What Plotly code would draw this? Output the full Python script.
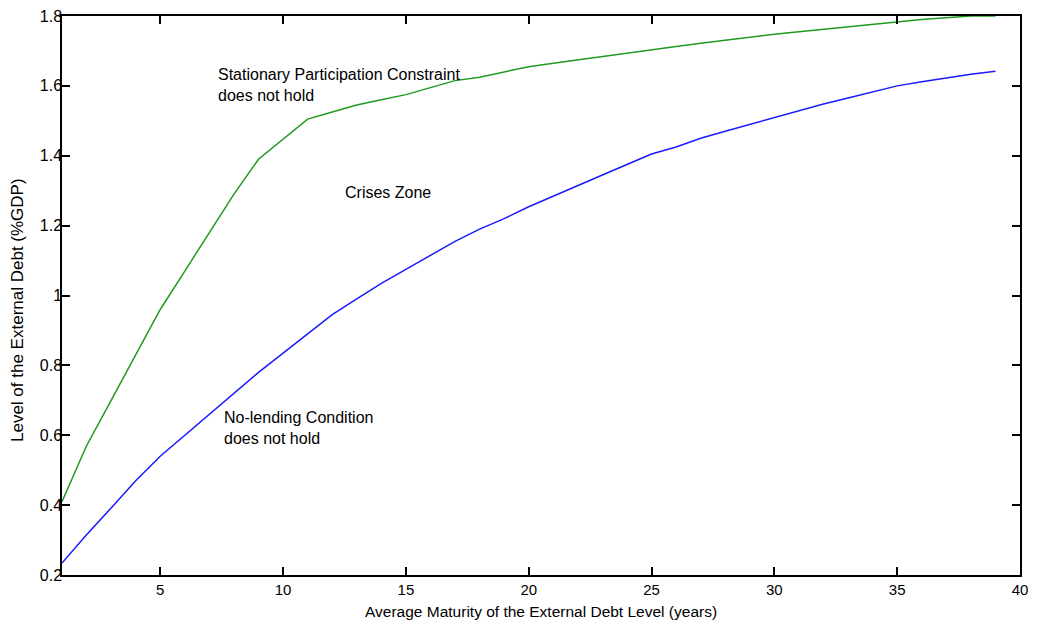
import plotly.graph_objects as go

maturity = list(range(1, 40))

stationary_pc = [0.41, 0.57, 0.70, 0.83, 0.96, 1.07, 1.18, 1.29, 1.39, 1.4475,
                 1.505, 1.525, 1.545, 1.56, 1.575, 1.595, 1.615, 1.625, 1.64, 1.655,
                 1.665, 1.675, 1.685, 1.695, 1.703, 1.713, 1.722, 1.731, 1.74, 1.748,
                 1.755, 1.762, 1.77, 1.776, 1.782, 1.79, 1.795, 1.8, 1.8]

no_lending = [0.234, 0.315, 0.392, 0.47, 0.54, 0.60, 0.66, 0.72, 0.78, 0.835,
              0.89, 0.945, 0.99, 1.035, 1.075, 1.115, 1.155, 1.19, 1.22, 1.254,
              1.285, 1.315, 1.345, 1.375, 1.405, 1.425, 1.45, 1.47, 1.49, 1.51,
              1.53, 1.548, 1.565, 1.583, 1.60, 1.612, 1.623, 1.633, 1.642]

x_ticks = [5, 10, 15, 20, 25, 30, 35, 40]
y_ticks = [0.2, 0.4, 0.6, 0.8, 1.0, 1.2, 1.4, 1.6, 1.8]
y_tick_labels = ["0.2", "0.4", "0.6", "0.8", "1", "1.2", "1.4", "1.6", "1.8"]

FONT = "Liberation Sans, Arial, sans-serif"

fig = go.Figure()
fig.add_trace(go.Scatter(x=maturity, y=stationary_pc, mode="lines",
                         line=dict(color="#1f9a1f", width=1.5), showlegend=False))
fig.add_trace(go.Scatter(x=maturity, y=no_lending, mode="lines",
                         line=dict(color="#1a1aff", width=1.5), showlegend=False))

fig.add_annotation(x=7.25, y=1.603, text="Stationary Participation Constraint<br>does not hold",
                   showarrow=False, xanchor="left", yanchor="middle", align="left",
                   font=dict(family=FONT, size=16, color="black"))
fig.add_annotation(x=12.45, y=1.296, text="Crises Zone",
                   showarrow=False, xanchor="left", yanchor="middle",
                   font=dict(family=FONT, size=16, color="black"))
fig.add_annotation(x=7.5, y=0.621, text="No-lending Condition<br>does not hold",
                   showarrow=False, xanchor="left", yanchor="middle", align="left",
                   font=dict(family=FONT, size=16, color="black"))

# axis titles
fig.add_annotation(xref="paper", yref="paper", x=0.5, y=-0.066,
                   text="Average Maturity of the External Debt Level (years)",
                   showarrow=False, xanchor="center", yanchor="middle",
                   font=dict(family=FONT, size=15.5, color="black"))
fig.add_annotation(xref="paper", yref="paper", x=-0.047, y=0.474,
                   text="Level of the External Debt (%GDP)", textangle=-90,
                   showarrow=False, xanchor="center", yanchor="middle",
                   font=dict(family=FONT, size=17, color="black"))

axis_common = dict(showgrid=False, zeroline=False, showline=True, linecolor="black",
                   linewidth=1.5, mirror="ticks", ticks="inside", ticklen=8,
                   tickcolor="black", tickwidth=1.5, ticklabeloverflow="allow",
                   automargin=False)

fig.update_xaxes(range=[1, 40], tickvals=x_ticks,
                 tickfont=dict(family=FONT, size=15, color="black"), **axis_common)
fig.update_yaxes(range=[0.2, 1.8], tickvals=y_ticks, ticktext=y_tick_labels,
                 tickfont=dict(family=FONT, size=16, color="black"),
                 ticklabelstandoff=-5, **axis_common)

# page body has an 8px margin; plot area spans 958x559 px
fig.update_layout(width=1021, height=616,
                  margin=dict(l=54, r=9, t=8, b=49),
                  paper_bgcolor="white", plot_bgcolor="white",
                  font=dict(family=FONT, size=15, color="black"))

fig.write_html("out.html")
